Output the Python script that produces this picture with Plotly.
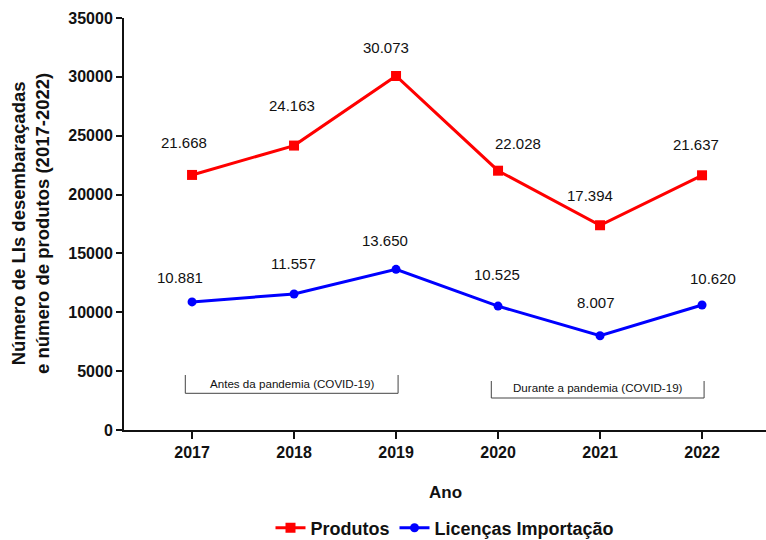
import plotly.graph_objects as go

# Data
anos = [2017, 2018, 2019, 2020, 2021, 2022]
produtos = [21668, 24163, 30073, 22028, 17394, 21637]
licencas = [10881, 11557, 13650, 10525, 8007, 10620]

# Hand-tuned offsets (px) for the value labels
prod_dx = [-8, -2, -10, 20, -10, -6]
prod_dy = [32, 40, 29, 27, 30, 31]
lic_dx = [-12, -1, -11, -1, -4, 11]
lic_dy = [24, 30, 29, 32, 33, 26]

periodos = [
    ("Antes da pandemia (COVID-19)", 2017, 2019),
    ("Durante a pandemia (COVID-19)", 2020, 2022),
]

titulo_y = ["Número de LIs desembaraçadas", "e número de produtos (2017-2022)"]

FONT = "Liberation Sans, Arial, sans-serif"
RED = "#ff0000"
BLUE = "#0000ff"


def fmt(v):
    return f"{v:,}".replace(",", ".")


fig = go.Figure()
fig.add_trace(go.Scatter(
    x=anos, y=produtos, name="Produtos", mode="lines+markers",
    line=dict(color=RED, width=3),
    marker=dict(symbol="square", size=10, color=RED),
))
fig.add_trace(go.Scatter(
    x=anos, y=licencas, name="Licenças Importação", mode="lines+markers",
    line=dict(color=BLUE, width=3),
    marker=dict(symbol="circle", size=9, color=BLUE),
))

annotations = []
for serie, dxs, dys in ((produtos, prod_dx, prod_dy), (licencas, lic_dx, lic_dy)):
    for x, v, dx, dy in zip(anos, serie, dxs, dys):
        annotations.append(dict(
            x=x, y=v, xref="x", yref="y", text=fmt(v), showarrow=False,
            xanchor="center", yanchor="middle",
            xshift=dx, yshift=dy, font=dict(family=FONT, size=15, color="#111111"),
        ))

# Period brackets
shapes = []
bracket_y = [(4672, 3118, 3993), (4163, 2718, 3653)]
for (label, a, b), (ytop, ybot, ytxt) in zip(periodos, bracket_y):
    x0, x1 = a - 0.066, b + 0.02
    shapes.append(dict(
        type="path", xref="x", yref="y",
        path=f"M {x0},{ytop} L {x0},{ybot} L {x1},{ybot} L {x1},{ytop}",
        line=dict(color="#444444", width=1),
    ))
    annotations.append(dict(
        x=(x0 + x1) / 2, y=ytxt, xref="x", yref="y", text=label, showarrow=False,
        xanchor="center", yanchor="middle",
        font=dict(family=FONT, size=11.6, color="#111111"),
    ))

# Y-axis title
annotations.append(dict(
    x=0, y=0.5, xref="paper", yref="paper", xshift=-94, textangle=-90,
    xanchor="center", yanchor="middle",
    text="<b>" + "<br>".join(titulo_y) + "</b>",
    showarrow=False, font=dict(family=FONT, size=18.5, color="#111111"),
))
# X-axis title
annotations.append(dict(
    x=0.5, y=0, xref="paper", yref="paper", yshift=-62, text="<b>Ano</b>",
    xanchor="center", yanchor="middle",
    showarrow=False, font=dict(family=FONT, size=17, color="#111111"),
))

fig.update_layout(
    width=766, height=540,
    margin=dict(l=124, r=0, t=18, b=110, autoexpand=False),
    paper_bgcolor="white", plot_bgcolor="white",
    font=dict(family=FONT, color="#111111"),
    showlegend=True,
    legend=dict(
        orientation="h", x=0.5, xanchor="center",
        yref="container", y=12 / 540, yanchor="middle",
        font=dict(family=FONT, size=18, color="#111111", weight="bold"),
        itemwidth=30,
    ),
    annotations=annotations,
    shapes=shapes,
)
fig.update_xaxes(
    range=[2016.333, 2022.627], tickmode="array", tickvals=anos,
    ticktext=[str(a) for a in anos],
    showline=True, linecolor="#111111", linewidth=2,
    ticks="outside", ticklen=7, tickwidth=2, tickcolor="#111111",
    showgrid=False, zeroline=False,
    tickfont=dict(family=FONT, size=16, color="#111111", weight="bold"),
)
fig.update_yaxes(
    range=[0, 35000], dtick=5000, tickformat="d",
    showline=True, linecolor="#111111", linewidth=2,
    ticks="outside", ticklen=6, tickwidth=2, tickcolor="#111111",
    showgrid=False, zeroline=False,
    tickfont=dict(family=FONT, size=16, color="#111111", weight="bold"),
)

fig.write_html("out.html")
